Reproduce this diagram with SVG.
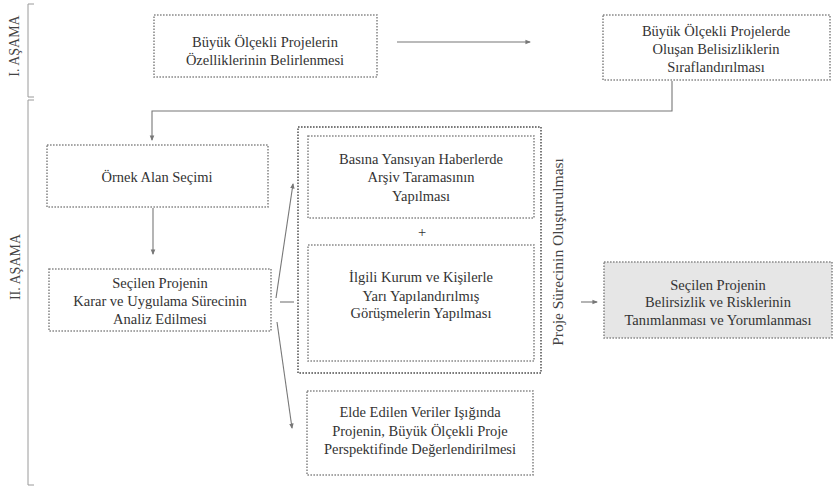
<svg xmlns="http://www.w3.org/2000/svg" width="840" height="495" viewBox="0 0 840 495">
  <style>
    .box { fill: #ffffff; stroke: #8a8a8a; stroke-width: 1.6; stroke-dasharray: 1.6 1.4; }
    .box.grey { fill: #e6e6e6; }
    .group { fill: none; stroke: #7a7a7a; stroke-width: 2; stroke-dasharray: 1.6 1.4; }
    .txt { font-family: "Liberation Serif", "DejaVu Serif", serif; font-size: 14.5px; fill: #333333; text-anchor: middle; }
    .side { font-family: "Liberation Serif", "DejaVu Serif", serif; font-size: 14px; fill: #444444; text-anchor: middle; }
    .bracket { fill: none; stroke: #9a9a9a; stroke-width: 1; }
    .conn { fill: none; stroke: #777777; stroke-width: 1.1; }
  </style>
  <defs>
    <marker id="arrow" viewBox="0 0 6 6" refX="5" refY="3" markerWidth="5" markerHeight="5" orient="auto">
      <path d="M0,0.5 L6,3 L0,5.5 z" fill="#777777"/>
    </marker>
  </defs>
  <rect width="840" height="495" fill="#ffffff"/>

  <!-- stage brackets -->
  <g id="stage-1">
    <path class="bracket" d="M34,4 H28 V97 H34"/>
    <text class="side" transform="translate(19,46) rotate(-90)">I. AŞAMA</text>
  </g>
  <g id="stage-2">
    <path class="bracket" d="M34,100 H28 V485 H34"/>
    <text class="side" transform="translate(20,267) rotate(-90)">II. AŞAMA</text>
  </g>

  <!-- connectors -->
  <g id="connectors">
    <line class="conn" x1="397" y1="42" x2="530" y2="42" marker-end="url(#arrow)"/>
    <path class="conn" d="M672,81 V111 H152 V140" marker-end="url(#arrow)"/>
    <line class="conn" x1="153" y1="208" x2="153" y2="254" marker-end="url(#arrow)"/>
    <line class="conn" x1="276" y1="298" x2="293" y2="184" marker-end="url(#arrow)"/>
    <line class="conn" x1="280" y1="302" x2="294" y2="302"/>
    <line class="conn" x1="277" y1="322" x2="292" y2="428" marker-end="url(#arrow)"/>
    <line class="conn" x1="581" y1="302" x2="597" y2="302" marker-end="url(#arrow)"/>
  </g>

  <!-- stage I -->
  <g id="node-ozellikler">
    <rect class="box" x="154" y="15" width="223" height="62"/>
    <text class="txt" x="265" y="47">Büyük Ölçekli Projelerin</text>
    <text class="txt" x="265" y="65">Özelliklerinin Belirlenmesi</text>
  </g>
  <g id="node-belirsizlikler">
    <rect class="box" x="603" y="15" width="227" height="65"/>
    <text class="txt" x="716" y="36">Büyük Ölçekli Projelerde</text>
    <text class="txt" x="716" y="54">Oluşan Belisizliklerin</text>
    <text class="txt" x="716" y="72">Sıraflandırılması</text>
  </g>

  <!-- stage II -->
  <g id="node-ornek-alan">
    <rect class="box" x="47" y="145" width="221" height="62"/>
    <text class="txt" x="157" y="182">Örnek Alan Seçimi</text>
  </g>
  <g id="node-analiz">
    <rect class="box" x="49" y="269" width="222" height="62"/>
    <text class="txt" x="160" y="288">Seçilen Projenin</text>
    <text class="txt" x="160" y="306">Karar ve Uygulama Sürecinin</text>
    <text class="txt" x="160" y="324">Analiz Edilmesi</text>
  </g>

  <g id="group-proje-sureci">
    <rect class="group" x="298" y="127" width="243" height="246"/>
    <text class="side" style="font-size:15.5px" transform="translate(563,252) rotate(-90)">Proje Sürecinin Oluşturulması</text>
  </g>
  <g id="node-arsiv">
    <rect class="box" x="308" y="136" width="226" height="82"/>
    <text class="txt" x="421" y="164">Basına Yansıyan Haberlerde</text>
    <text class="txt" x="421" y="182">Arşiv Taramasının</text>
    <text class="txt" x="421" y="201">Yapılması</text>
  </g>
  <g id="plus">
    <text class="txt" x="422" y="237">+</text>
  </g>
  <g id="node-gorusmeler">
    <rect class="box" x="308" y="245" width="226" height="116"/>
    <text class="txt" x="421" y="282">İlgili Kurum ve Kişilerle</text>
    <text class="txt" x="421" y="301">Yarı Yapılandırılmış</text>
    <text class="txt" x="421" y="318">Görüşmelerin Yapılması</text>
  </g>

  <g id="node-degerlendirme">
    <rect class="box" x="307" y="391" width="226" height="84"/>
    <text class="txt" x="420" y="417">Elde Edilen Veriler Işığında</text>
    <text class="txt" x="420" y="436">Projenin, Büyük Ölçekli Proje</text>
    <text class="txt" x="420" y="454">Perspektifinde Değerlendirilmesi</text>
  </g>

  <g id="node-sonuc">
    <rect class="box grey" x="604" y="262" width="228" height="76"/>
    <text class="txt" x="718" y="290">Seçilen Projenin</text>
    <text class="txt" x="718" y="307">Belirsizlik ve Risklerinin</text>
    <text class="txt" x="718" y="325">Tanımlanması ve Yorumlanması</text>
  </g>
</svg>
